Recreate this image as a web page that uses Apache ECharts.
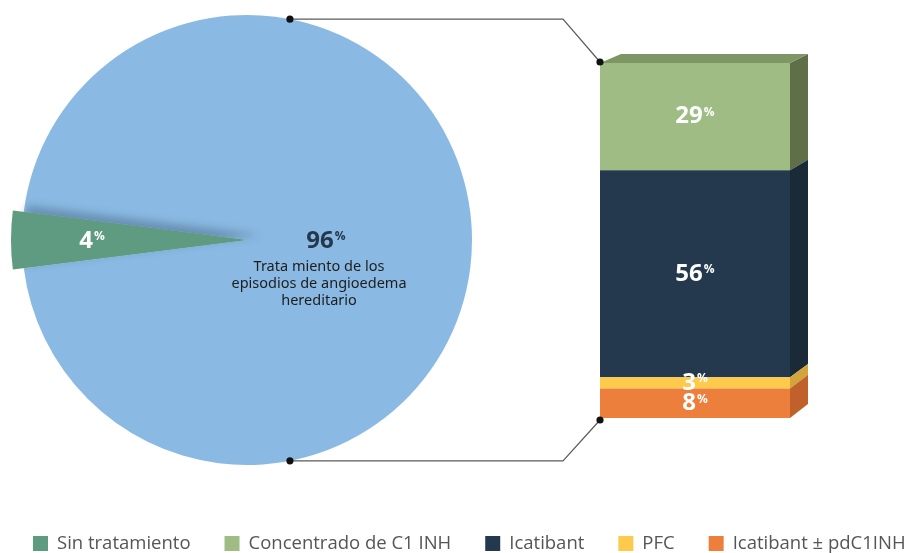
<!DOCTYPE html>
<html>
<head>
<meta charset="utf-8">
<script src="https://cdn.jsdelivr.net/npm/echarts@6/dist/echarts.min.js"></script>
<style>html,body{margin:0;padding:0;background:#fff;}#c{width:910px;height:553px;}</style>
</head>
<body>
<div id="c"></div>
<script>
// ---- data ----
const pieNames = ['Sin tratamiento', 'Trata miento de los episodios de angioedema hereditario'];
const pieValues = [4, 96];
const pieDescLines = ['Trata miento de los', 'episodios de angioedema', 'hereditario'];
const barNames = ['Concentrado de C1 INH', 'Icatibant', 'PFC', 'Icatibant ± pdC1INH'];
const barValues = [29, 56, 3, 8];
const legendNames = ['Sin tratamiento', 'Concentrado de C1 INH', 'Icatibant', 'PFC', 'Icatibant ± pdC1INH'];

// ---- styles ----
const pieColors = ['#5f9b80', '#8abae3'];
const barFront = ['#9ebc83', '#24394d', '#fdca4c', '#ed7f3d'];
const barSide = ['#5f6f48', '#1a2a37', '#d1a43c', '#c0612c'];
const barTop = '#7e9663';
const legendColors = ['#5f9b80', '#9ebc83', '#24394d', '#fdca4c', '#ed7f3d'];

const PIE_C = [247, 240], PIE_R = 225, SLICE_R = 236;
const BAR = {left: 600, top: 63, width: 190, height: 355};

const chart = echarts.init(document.getElementById('c'), null, {renderer: 'canvas'});

const total = barValues.reduce((a, b) => a + b, 0);
// stacked from bottom: last item at bottom
const segs = [];
let acc = 0;
for (let i = barValues.length - 1; i >= 0; i--) {
  segs[i] = [acc, acc + barValues[i]];
  acc += barValues[i];
}

const pctRich = (size, color) => ({
  n: {fontSize: size, fontWeight: 'bold', fontFamily: 'Open Sans', fill: color, color: color, lineHeight: size + 2},
  p: {fontSize: Math.round(size * 0.5), fontWeight: 'bold', fontFamily: 'Open Sans', fill: color, color: color, lineHeight: 12, verticalAlign: 'top', padding: [3, 0, 0, 1]}
});

const sliceAngle = pieValues[0] / (pieValues[0] + pieValues[1]) * 360;

const barSeries = barNames.map((name, i) => ({
  type: 'custom',
  name: name,
  clip: false,
  silent: true,
  itemStyle: {color: barFront[i]},
  data: [segs[i]],
  renderItem: function (params, api) {
    const s = api.value(0), e = api.value(1);
    const pTL = api.coord([0, e]);
    const pTR = api.coord([1, e]);
    const pBL = api.coord([0, s]);
    const x0 = pTL[0], x1 = pTR[0], yT = pTL[1], yB = pBL[1];
    const top0 = api.coord([0, total])[1], bot0 = api.coord([0, 0])[1];
    const dyAt = y => 9 + 5 * (y - top0) / (bot0 - top0);
    const children = [
      {type: 'rect', shape: {x: x0, y: yT, width: x1 - x0, height: yB - yT}, style: {fill: barFront[i]}},
      {type: 'polygon', shape: {points: [[x1, yT], [x1 + 18, yT - dyAt(yT)], [x1 + 18, yB - dyAt(yB)], [x1, yB]]}, style: {fill: barSide[i]}}
    ];
    if (e === total) {
      children.push({type: 'polygon', shape: {points: [[x0, yT], [x0 + 21, yT - 9], [x1 + 18, yT - 9], [x1, yT]]}, style: {fill: barTop}});
    }
    children.push({
      type: 'text',
      z2: 10,
      style: {
        text: '{n|' + barValues[i] + '}{p|%}',
        x: (x0 + x1) / 2, y: (yT + yB) / 2,
        align: 'center', verticalAlign: 'middle',
        rich: pctRich(24, '#ffffff')
      }
    });
    return {type: 'group', children: children};
  }
}));

const option = {
  animation: false,
  backgroundColor: '#ffffff',
  grid: {left: BAR.left, top: BAR.top, width: BAR.width, height: BAR.height},
  xAxis: {type: 'value', min: 0, max: 1, show: false},
  yAxis: {type: 'value', min: 0, max: total, show: false},
  legend: {
    left: 33, top: 534, padding: 0, width: 877,
    itemWidth: 15, itemHeight: 15, itemGap: 34,
    icon: 'rect',
    selectedMode: false,
    textStyle: {fontFamily: 'Open Sans', fontSize: 18.5, color: '#555555', padding: [0, 0, 0, 4]},
    data: legendNames.map((n, i) => ({name: n, itemStyle: {color: legendColors[i]}}))
  },
  series: [
    {
      type: 'pie', name: 'base', silent: true,
      center: PIE_C, radius: PIE_R, startAngle: 180 + sliceAngle / 2, clockwise: true,
      label: {show: false}, labelLine: {show: false},
      itemStyle: {borderWidth: 0},
      data: [
        {name: pieNames[0] + ' ', value: pieValues[0], itemStyle: {color: pieColors[1]}},
        {name: pieNames[1], value: pieValues[1], itemStyle: {color: pieColors[1]}}
      ]
    },
    {
      type: 'pie', name: 'slice', silent: true, z: 3,
      center: PIE_C, radius: SLICE_R, startAngle: 180 + sliceAngle / 2, clockwise: true,
      label: {show: false}, labelLine: {show: false},
      data: [
        {name: pieNames[0], value: pieValues[0], itemStyle: {color: pieColors[0], borderWidth: 0, shadowBlur: 9, shadowOffsetX: 14, shadowOffsetY: -5, shadowColor: 'rgba(25,45,70,0.3)'}},
        {name: ' ', value: pieValues[1], itemStyle: {color: 'rgba(0,0,0,0)', borderWidth: 0}}
      ]
    }
  ].concat(barSeries)
};
chart.setOption(option);

// connectors & pie labels
const pTop = chart.convertToPixel({gridIndex: 0}, [0, total]);
const pBot = chart.convertToPixel({gridIndex: 0}, [0, 0]);
const ang = 79 * Math.PI / 180;
const a1 = [PIE_C[0] + PIE_R * Math.cos(ang), PIE_C[1] - PIE_R * Math.sin(ang)];
const a2 = [PIE_C[0] + PIE_R * Math.cos(ang), PIE_C[1] + PIE_R * Math.sin(ang)];
const b1 = [pTop[0], pTop[1] - 1];
const b2 = [pBot[0], pBot[1] + 2];
const elbow = 37;
const lineStyle = {stroke: '#5a5a5a', lineWidth: 1.2, fill: null};
const dot = p => ({type: 'circle', shape: {cx: p[0], cy: p[1], r: 3.6}, style: {fill: '#111111'}, z: 20});

chart.setOption({
  graphic: [
    {type: 'polyline', shape: {points: [a1, [b1[0] - elbow, a1[1]], b1]}, style: lineStyle, z: 19},
    {type: 'polyline', shape: {points: [a2, [b2[0] - elbow, a2[1]], b2]}, style: lineStyle, z: 19},
    dot(a1), dot(b1), dot(a2), dot(b2),
    {type: 'text', z: 30, style: {text: '{n|' + pieValues[1] + '}{p|%}', x: PIE_C[0] + 79, y: PIE_C[1] + 1, align: 'center', verticalAlign: 'middle', rich: pctRich(24, '#25384b')}},
    {type: 'text', z: 30, style: {text: pieDescLines.join('\n'), x: PIE_C[0] + 72, y: PIE_C[1] + 18, align: 'center', verticalAlign: 'top', fontFamily: 'Noto Sans', fontSize: 14.5, lineHeight: 17, fill: '#1d1d1d'}},
    {type: 'text', z: 30, style: {text: '{n|' + pieValues[0] + '}{p|%}', x: PIE_C[0] - 155, y: PIE_C[1] + 1, align: 'center', verticalAlign: 'middle', rich: pctRich(24, '#ffffff')}}
  ]
});
</script>
</body>
</html>
